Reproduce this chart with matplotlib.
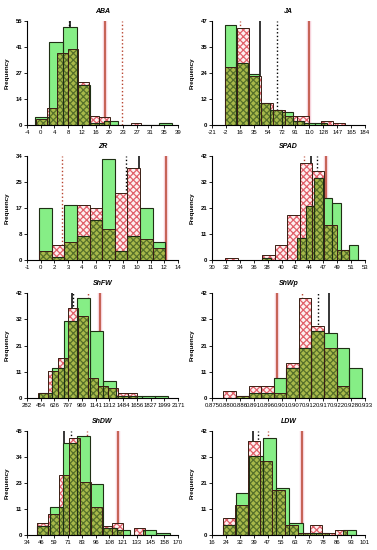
import matplotlib
matplotlib.use("Agg")
import matplotlib.pyplot as plt
import numpy as np

plt.rcParams['font.family'] = ['Liberation Sans', 'DejaVu Sans']
plt.rcParams['hatch.linewidth'] = 0.9

# ---------------- data ----------------
titles = ["ABA", "JA", "ZR", "SPAD", "ShFW", "ShWp", "ShDW", "LDW"]

xtick_labels = {
    "ABA": ['-4', '0', '4', '8', '12', '16', '20', '23', '27', '31', '35', '39'],
    "JA": ['-21', '-2', '16', '35', '54', '72', '91', '110', '128', '147', '165', '184'],
    "ZR": ['-1', '0', '2', '3', '4', '6', '7', '8', '10', '11', '12', '14'],
    "SPAD": ['30', '32', '34', '36', '38', '40', '42', '44', '47', '49', '51', '53'],
    "ShFW": ['282', '454', '626', '797', '969', '1141', '1312', '1484', '1656', '1827', '1999', '2171'],
    "ShWp": ['0.875', '0.880', '0.886', '0.891', '0.896', '0.901', '0.907', '0.912', '0.917', '0.922', '0.928', '0.933'],
    "ShDW": ['34', '46', '59', '71', '83', '96', '108', '121', '133', '145', '158', '170'],
    "LDW": ['16', '24', '32', '39', '47', '55', '63', '70', '78', '86', '93', '101'],
}
x_range = {
    "ABA": (-4, 39), "JA": (-21, 184), "ZR": (-1, 14), "SPAD": (30, 53),
    "ShFW": (282, 2171), "ShWp": (0.875, 0.933), "ShDW": (34, 170), "LDW": (16, 101),
}
ytick_labels = {
    "ABA": ['0', '14', '27', '41', '55'],
    "JA": ['0', '12', '24', '35', '47'],
    "ZR": ['0', '8', '17', '25', '34'],
    "SPAD": ['0', '11', '21', '32', '42'],
    "ShFW": ['0', '11', '21', '32', '42'],
    "ShWp": ['0', '11', '21', '32', '42'],
    "ShDW": ['0', '11', '23', '34', '45'],
    "LDW": ['0', '11', '21', '32', '42'],
}
y_max = {"ABA": 55, "JA": 47, "ZR": 34, "SPAD": 42, "ShFW": 42, "ShWp": 42, "ShDW": 45, "LDW": 42}

# population 1 (green) bin edges and counts
green_edges = {
    "ABA": [-1.6, 2.3, 6.2, 10.1, 14.0, 17.9, 21.8, 25.7, 29.6, 33.5, 37.4],
    "JA": [-3.3, 11.8, 26.9, 42.0, 57.1, 72.2, 87.3, 102.4, 117.5, 132.6],
    "ZR": [0.2, 1.45, 2.71, 3.96, 5.22, 6.47, 7.72, 8.98, 10.23, 11.49, 12.74],
    "SPAD": [37.55, 38.86, 40.17, 41.48, 42.79, 44.10, 45.40, 46.71, 48.02, 49.33, 50.64, 51.95],
    "ShFW": [427, 589, 751, 913, 1075, 1237, 1399, 1561, 1723, 1885, 2047],
    "ShWp": [0.8793, 0.8841, 0.8889, 0.8936, 0.8984, 0.9031, 0.9079, 0.9126, 0.9174, 0.9222, 0.9269, 0.9317],
    "ShDW": [42.97, 54.92, 66.87, 78.82, 90.77, 102.72, 114.67, 126.62, 138.57, 150.52, 162.47],
    "LDW": [21.9, 29.3, 36.7, 44.1, 51.5, 58.9, 66.3, 73.7, 81.1, 88.5, 95.9],
}
green_counts = {
    "ABA": [4, 44, 52, 21, 1, 2, 0, 0, 0, 1],
    "JA": [45, 28, 23, 10, 7, 6, 2, 1, 1],
    "ZR": [17, 1, 18, 8, 13, 33, 3, 8, 17, 6],
    "SPAD": [1, 0, 0, 0, 9, 22, 33, 25, 23, 4, 6],
    "ShFW": [2, 12, 31, 40, 27, 7, 1, 1, 1, 1],
    "ShWp": [0, 1, 2, 2, 8, 12, 20, 27, 26, 20, 12],
    "ShDW": [4, 12, 40, 43, 22, 3, 2, 0, 2, 1],
    "LDW": [4, 17, 32, 39, 19, 5, 1, 1, 0, 2],
}
# population 2 (red hatched) bin edges and counts
red_edges = {
    "ABA": [-1.4, 1.6, 4.6, 7.6, 10.6, 13.6, 16.6, 19.6, 22.6, 25.6, 28.6],
    "JA": [-3.3, 12.7, 28.7, 44.7, 60.7, 76.7, 92.7, 108.7, 124.7, 140.7, 156.7],
    "ZR": [0.2, 1.45, 2.71, 3.96, 5.22, 6.47, 7.72, 8.98, 10.23, 11.49, 12.74],
    "SPAD": [32.0, 33.86, 35.73, 37.59, 39.45, 41.32, 43.18, 45.04, 46.90, 48.77, 50.63],
    "ShFW": [419, 543.5, 668, 792.5, 917, 1041.5, 1166, 1290.5, 1415, 1539.5, 1664],
    "ShWp": [0.8793, 0.8841, 0.8889, 0.8936, 0.8984, 0.9031, 0.9079, 0.9126, 0.9174, 0.9222, 0.9269, 0.9317],
    "ShDW": [42.97, 52.68, 62.39, 72.10, 81.81, 91.52, 101.23, 110.94, 120.65, 130.36, 140.07],
    "LDW": [21.9, 28.8, 35.8, 42.7, 49.6, 56.6, 63.5, 70.4, 77.3, 84.3, 91.2],
}
red_counts = {
    "ABA": [3, 9, 38, 40, 23, 5, 4, 0, 0, 1],
    "JA": [26, 44, 22, 10, 7, 4, 4, 0, 2, 1],
    "ZR": [3, 5, 6, 18, 17, 10, 22, 30, 7, 4],
    "SPAD": [1, 0, 0, 2, 6, 18, 39, 36, 14, 4],
    "ShFW": [2, 11, 16, 36, 33, 8, 5, 4, 2, 2],
    "ShWp": [3, 1, 5, 5, 2, 14, 40, 29, 20, 5, 0],
    "ShDW": [5, 9, 26, 42, 23, 12, 4, 5, 0, 3],
    "LDW": [7, 12, 38, 30, 18, 4, 1, 4, 1, 2],
}
# reference lines: (value, kind)  kind: 'k-' black solid, 'k:' black dotted, 'r-' red solid, 'r:' red dotted
ref_lines = {
    "ABA": [(8.0, 'k:'), (8.3, 'k-'), (18.1, 'r-'), (23.1, 'r:')],
    "JA": [(16, 'r:'), (43.4, 'k-'), (66.4, 'k:'), (108.6, 'r-')],
    "ZR": [(2.47, 'r:'), (8.83, 'k:'), (10.1, 'k-'), (12.77, 'r-')],
    "SPAD": [(43.8, 'r:'), (44.95, 'k-'), (45.8, 'k:'), (47.2, 'r-')],
    "ShFW": [(851, 'k-'), (860, 'k:'), (1050, 'r:'), (1195, 'r-')],
    "ShWp": [(0.8996, 'r-'), (0.9093, 'r:'), (0.9150, 'k:'), (0.9194, 'k-')],
    "ShDW": [(66.9, 'k-'), (73.5, 'k:'), (88.4, 'r:'), (116.2, 'r-')],
    "LDW": [(38.55, 'k-'), (41.3, 'k:'), (46.9, 'r:'), (65.9, 'r-')],
}

# ---------------- style ----------------
GREEN = '#86ee86'
PINK_BG = '#fdf0f0'
RED_HATCH = '#e0606a'
OLIVE = '#a8b94a'
OLIVE_HATCH = '#56702a'
EDGE = '#1f2f14'
RED_LINE = '#b8432f'

fig = plt.figure(figsize=(3.77, 5.5), dpi=100)
W, H = 377.0, 550.0
col_x = [(27, 178), (212, 365)]
row_y = [(21, 125), (156, 260), (293, 398), (431, 535)]

for i, name in enumerate(titles):
    r, c = divmod(i, 2)
    x0, x1 = col_x[c]
    yt, yb = row_y[r]
    ax = fig.add_axes([x0 / W, 1 - yb / H, (x1 - x0) / W, (yb - yt) / H])

    ge = np.array(green_edges[name]); gh = np.array(green_counts[name], float)
    re_ = np.array(red_edges[name]); rh = np.array(red_counts[name], float)
    gl, gw = ge[:-1], np.diff(ge)
    rl, rw = re_[:-1], np.diff(re_)

    # reference lines (behind bars)
    for val, kind in ref_lines[name]:
        col = 'black' if kind[0] == 'k' else RED_LINE
        ls = '-' if kind[1] == '-' else ':'
        if kind == 'r-':
            ax.axvline(val, color='#f7d3dc', lw=3.2, zorder=0.5)
        ax.axvline(val, color=col, lw=1.1 if ls == '-' else 1.0, ls=ls, zorder=1)

    ax.bar(gl, gh, width=gw, align='edge', color=GREEN, linewidth=0, zorder=2)
    ax.bar(rl, rh, width=rw, align='edge', facecolor=PINK_BG, edgecolor=RED_HATCH,
           hatch='xxxxx', linewidth=0, zorder=3)

    # overlap of the two histograms
    ox, ow, oh = [], [], []
    for a, wa, ha in zip(gl, gw, gh):
        for b, wb, hb in zip(rl, rw, rh):
            lo = max(a, b); hi = min(a + wa, b + wb); hh = min(ha, hb)
            if hi > lo and hh > 0:
                ox.append(lo); ow.append(hi - lo); oh.append(hh)
    ax.bar(ox, oh, width=ow, align='edge', facecolor=OLIVE, edgecolor=OLIVE_HATCH,
           hatch='xxxxx', linewidth=0, zorder=4)

    ax.bar(gl, gh, width=gw, align='edge', fill=False, edgecolor=EDGE, linewidth=0.8, zorder=5)
    ax.bar(rl, rh, width=rw, align='edge', fill=False, edgecolor='#3a1f14', linewidth=0.7, zorder=5)

    xa, xb = x_range[name]
    ax.set_xlim(xa, xb)
    ax.set_xticks(np.linspace(xa, xb, len(xtick_labels[name])))
    ax.set_xticklabels(xtick_labels[name], fontsize=4.3)
    ym = y_max[name]
    ax.set_ylim(0, ym)
    ax.set_yticks(np.linspace(0, ym, len(ytick_labels[name])))
    ax.set_yticklabels(ytick_labels[name], fontsize=4.3, fontweight='bold')
    for s in ['top', 'right']:
        ax.spines[s].set_visible(False)
    for s in ['left', 'bottom']:
        ax.spines[s].set_linewidth(0.8)
    ax.tick_params(length=2, width=0.6, pad=1.5)
    ax.set_ylabel('Frequency', fontsize=4.5, fontweight='bold', labelpad=4)
    ax.set_title(name, fontsize=5, fontstyle='italic', fontweight='bold', pad=6)

fig.savefig('out.png', dpi=100)
